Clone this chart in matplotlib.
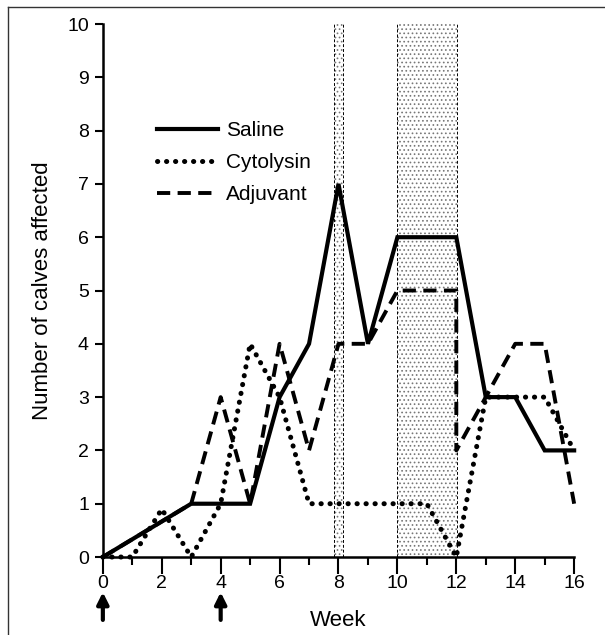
import matplotlib
matplotlib.use('Agg')
import matplotlib.pyplot as plt
from matplotlib.lines import Line2D

plt.rcParams['font.family'] = ['Liberation Sans', 'DejaVu Sans']
plt.rcParams['hatch.linewidth'] = 0.7

# Data
saline_weeks = [0, 3, 5, 6, 7, 8, 9, 10, 12, 13, 14, 15, 16]
saline_vals = [0, 1, 1, 3, 4, 7, 4, 6, 6, 3, 3, 2, 2]

cyto_weeks = [0, 1, 2, 3, 4, 5, 6, 7, 8, 9, 10, 11, 12, 13, 14, 15, 16]
cyto_vals = [0, 0, 0.9, 0, 1, 4, 3, 1, 1, 1, 1, 1, 0, 3, 3, 3, 2]

adj_weeks = [0, 3, 4, 5, 6, 7, 8, 9, 10, 12, 12, 13, 14, 15, 16]
adj_vals = [0, 1, 3, 1, 4, 2, 4, 4, 5, 5, 2, 3, 4, 4, 1]

shaded_periods = [(7.86, 8.14), (10.0, 12.03)]
arrow_weeks = [0, 4]

fig = plt.figure(figsize=(6.05, 6.35), dpi=100, facecolor='white')
ax = fig.add_axes([0.170, 0.1228, 0.779, 0.8394])

# shaded periods (stippled, dashed border)
for x0, x1 in shaded_periods:
    ax.axvspan(x0, x1, facecolor='white', edgecolor='#777777', hatch='....',
               linewidth=0, zorder=0)
    for xe in (x0, x1):
        ax.axvline(xe, color='black', linestyle=(0, (3, 2)), linewidth=0.7, zorder=1)

ax.plot(saline_weeks, saline_vals, color='black', linewidth=3.0,
        solid_joinstyle='miter', clip_on=False, zorder=3, label='Saline')
ax.plot(cyto_weeks, cyto_vals, color='black', linewidth=3.6,
        linestyle=(0, (0.05, 1.75)), dash_capstyle='round', clip_on=False,
        zorder=3, label='Cytolysin')
ax.plot(adj_weeks, adj_vals, color='black', linewidth=2.8,
        linestyle=(0, (3.4, 1.9)), clip_on=False, zorder=3, label='Adjuvant')

ax.set_xlim(0, 16)
ax.set_ylim(0, 10)
ax.set_xticks(range(0, 17, 2))
ax.set_xticks(range(1, 17, 2), minor=True)
ax.set_yticks(range(0, 11))
ax.tick_params(axis='both', which='major', labelsize=14, width=1.5, color='black')
ax.tick_params(axis='x', which='major', length=12, direction='out', pad=1)
ax.tick_params(axis='x', which='minor', length=6, width=1.5, direction='out')
ax.tick_params(axis='y', which='major', length=6, direction='out', pad=4)

for side in ('top', 'right'):
    ax.spines[side].set_visible(False)
for side in ('left', 'bottom'):
    ax.spines[side].set_linewidth(1.8)

ax.set_ylabel('Number of calves affected', fontsize=16, labelpad=10)
ax.set_xlabel('Week', fontsize=16, labelpad=13)

# arrows marking injections
for w in arrow_weeks:
    ax.annotate('', xy=(w, -0.66), xytext=(w, -1.18), xycoords='data',
                textcoords='data', annotation_clip=False,
                arrowprops=dict(arrowstyle='-|>', color='black', lw=3,
                                mutation_scale=17, shrinkA=0, shrinkB=0))

leg = ax.legend(loc='upper left', bbox_to_anchor=(0.093, 0.837), frameon=False,
                fontsize=15, handlelength=2.9, handletextpad=0.4,
                labelspacing=0.62, borderpad=0)

# figure frame (left and top edges)
fig.add_artist(Line2D([8 / 605, 8 / 605], [0, 1 - 7 / 635], color='#333333',
                      linewidth=1.0, transform=fig.transFigure))
fig.add_artist(Line2D([8 / 605, 1], [1 - 7 / 635, 1 - 7 / 635], color='#333333',
                      linewidth=1.0, transform=fig.transFigure))

fig.savefig('out.png', dpi=100, facecolor='white')
